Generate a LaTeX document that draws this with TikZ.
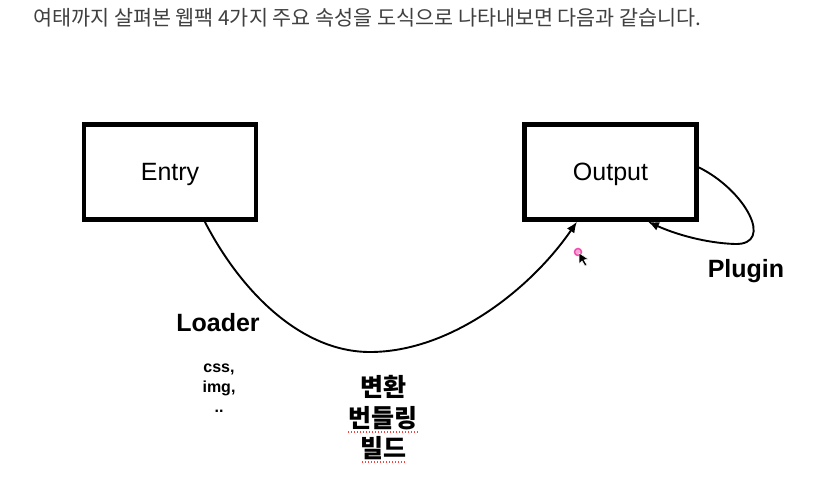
\documentclass[tikz,border=0pt]{standalone}
\usepackage{fontspec}
\setmainfont{Liberation Sans}
\newfontfamily\kr{Noto Sans CJK KR}
\usetikzlibrary{arrows.meta}
\begin{document}
\begin{tikzpicture}[x=1pt,y=-1pt,
  box/.style={draw, line width=4.5pt, minimum width=172pt, minimum height=95pt, inner sep=0pt, text depth=0pt, font=\fontsize{25}{30}\selectfont},
  conn/.style={line width=1.9pt, -{Latex[length=11pt,width=9pt]}},
  lbl/.style={font=\bfseries\fontsize{25}{30}\selectfont},
  spell/.style={red!75, line width=1.2pt, dash pattern=on 1pt off 2pt}
  ]
\useasboundingbox[fill=white] (0,0) rectangle (824,478);
\node[anchor=west, text=black!75, font=\kr\fontsize{20.7}{24}\selectfont, inner sep=0pt] (title) at (33,18) {여태까지 살펴본 웹팩 4가지 주요 속성을 도식으로 나타내보면 다음과 같습니다.};
\node[box] (entry) at (170,172) {Entry};
\node[box] (output) at (610.5,172) {Output};
\coordinate (low) at (370,352);
\draw[conn] (entry.-55) .. controls (240,290) and (300,352) .. (low) .. controls (450,352) and (530,290) .. (output.-124);
\draw[conn] (output.3) .. controls (745,190) and (775,245) .. (735,244) .. controls (705,243) and (675,234) .. (output.-53);
\node[lbl] (loader) at (218,323) {Loader};
\node[font=\bfseries\fontsize{16}{20}\selectfont, align=center] (types) at (219,388) {css,\\img,\\..};
\node[font=\kr\bfseries\fontsize{25}{30.5}\selectfont, align=center] (steps) at (383,418) {변환\\번들링\\빌드};
\node[lbl] (plugin) at (746,271) {Plugin};
\draw[spell] (348,432) -- (418,432);
\draw[spell] (362,462) -- (405,462);
\draw[magenta!70, fill=magenta!35, line width=1.5pt] (578,252) circle (3.5pt);
\filldraw[fill=black, draw=white, line width=0.5pt] (579,253) -- (579,264) -- (582,261) -- (585,266) -- (587,265) -- (584,260) -- (588,259) -- cycle;
\end{tikzpicture}
\end{document}
